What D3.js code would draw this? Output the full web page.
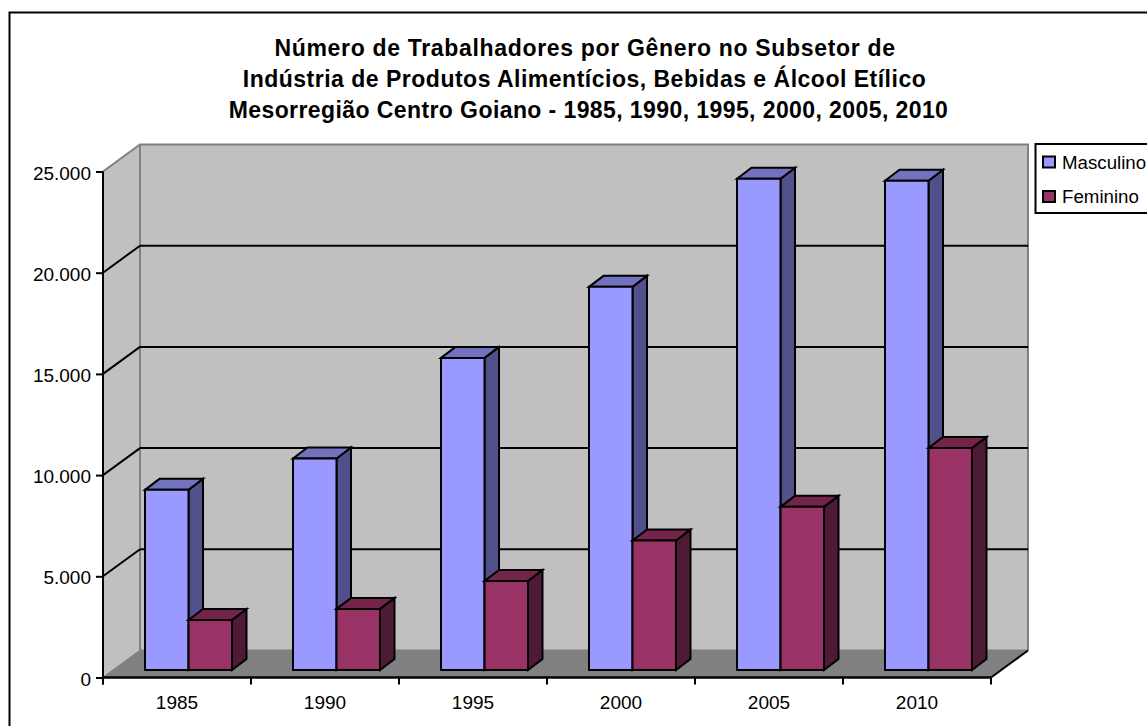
<!DOCTYPE html>
<html><head><meta charset="utf-8">
<style>html,body{margin:0;padding:0;background:#fff}svg{display:block}</style>
<script src="https://cdn.jsdelivr.net/npm/d3@7"></script></head><body>
<svg id="c" width="1147" height="726"></svg>
<script>
const categories = ["1985","1990","1995","2000","2005","2010"];
const masculino = [8900,10450,15420,18930,24270,24170];
const feminino = [2470,3020,4400,6400,8060,10970];
const yTicks = [0,5000,10000,15000,20000,25000];
const yTickLabels = ["0","5.000","10.000","15.000","20.000","25.000"];
const seriesNames = ["Masculino","Feminino"];
const seriesColors = ["#9999ff","#993366"];
const sideColors = ["#50508a","#4f1a36"];
const topColors = ["#7272be","#732549"];
const titleLines = ["Número de Trabalhadores por Gênero no Subsetor de","Indústria de Produtos Alimentícios, Bebidas e Álcool Etílico","Mesorregião Centro Goiano - 1985, 1990, 1995, 2000, 2005, 2010"];

const svg = d3.select("#c");
const font = "'Liberation Sans', Arial, sans-serif";
const L=103,R=991,Y0=677.5,Y1=171.5, DX=37, DY=-27, BDX=14.5, BDY=-11;
const x = d3.scaleBand().domain(categories).range([L,R]);
const y = d3.scaleLinear().domain([0,25000]).range([Y0,Y1]);
const line=(x1,y1,x2,y2,c,w)=>svg.append("line").attr("x1",x1).attr("y1",y1).attr("x2",x2).attr("y2",y2).attr("stroke",c).attr("stroke-width",w);
const poly=(pts,f,s,w)=>svg.append("polygon").attr("points",pts.map(p=>p.join(",")).join(" ")).attr("fill",f).attr("stroke",s||"none").attr("stroke-width",w||0).attr("stroke-linejoin","miter");

svg.append("rect").attr("x",9.5).attr("y",12.5).attr("width",1200).attr("height",800).attr("fill","#fff").attr("stroke","#000").attr("stroke-width",2);

poly([[L+DX,Y1+DY],[R+DX,Y1+DY],[R+DX,Y0+DY],[L+DX,Y0+DY]],"#c0c0c0");
poly([[L,Y1],[L+DX,Y1+DY],[L+DX,Y0+DY],[L,Y0]],"#c0c0c0");
poly([[L,Y0],[R,Y0],[R+DX,Y0+DY],[L+DX,Y0+DY]],"#808080");
svg.append("path").attr("d",`M${L},${Y1}L${L+DX},${Y1+DY}H${R+DX}V${Y0+DY}`).attr("fill","none").attr("stroke","#808080").attr("stroke-width",2);
line(L+DX,Y1+DY,L+DX,Y0+DY,"#808080",2);
line(L+DX,Y0+DY,R+DX,Y0+DY,"#808080",2);
line(L,Y0,L+DX,Y0+DY,"#808080",1.5);
line(R,Y0,R+DX,Y0+DY,"#000",2);
yTicks.slice(1,-1).forEach(t=>{
  line(L,y(t),L+DX,y(t)+DY,"#000",2);
  line(L+DX,y(t)+DY,R+DX,y(t)+DY,"#000",2);
});
const ax=svg.append("g").attr("transform",`translate(${L},0)`).call(d3.axisLeft(y).tickValues(yTicks).tickFormat((d,i)=>yTickLabels[i]).tickSize(7).tickPadding(5));
const bx=svg.append("g").attr("transform",`translate(0,${Y0})`).call(d3.axisBottom(x).tickSize(0).tickPadding(18));
bx.selectAll(".tick line").remove();
[...categories.map(c=>x(c)),R].forEach(px=>line(px,Y0,px,Y0+7,"#000",2));
[ax,bx].forEach(g=>{g.selectAll("text").attr("font-family",font).attr("font-size",19).attr("fill","#000");g.selectAll("path.domain").remove();});
ax.selectAll("text").attr("dy","0.4em");
ax.selectAll("line").attr("stroke","#000").attr("stroke-width",2);
line(L,Y1,L,Y0+7,"#000",2);
line(L,Y0,R,Y0,"#000",2.5);

const barW=43.5, off=42, fy=Y0-7.5, k=(Y0-Y1)/25000;
const drawBar=(x0,v,i)=>{
  const top=fy-v*k, x1=x0+barW;
  poly([[x1,top],[x1+BDX,top+BDY],[x1+BDX,fy+BDY],[x1,fy]],sideColors[i],"#000",2);
  poly([[x0,top],[x0+BDX,top+BDY],[x1+BDX,top+BDY],[x1,top]],topColors[i],"#000",2);
  poly([[x0,top],[x1,top],[x1,fy],[x0,fy]],seriesColors[i],"#000",2);
};
categories.forEach((c,j)=>{
  drawBar(x(c)+off,masculino[j],0);
  drawBar(x(c)+off+barW,feminino[j],1);
});

svg.append("g").selectAll("text").data(titleLines).join("text")
  .attr("text-anchor","middle").attr("x",(d,i)=>[585,584.5,588.5][i])
  .attr("y",(d,i)=>[56,87,118][i]).text(d=>d)
  .attr("font-family",font).attr("font-weight","bold").attr("font-size",23)
  .attr("letter-spacing",(d,i)=>[0.68,0.5,0.41][i]).attr("fill","#000");

svg.append("rect").attr("x",1035.5).attr("y",144).attr("width",130).attr("height",69).attr("fill","#fff").attr("stroke","#000").attr("stroke-width",2);
seriesNames.forEach((n,i)=>{
  const yy=[162,196.5][i];
  svg.append("rect").attr("x",1043).attr("y",yy-5.5).attr("width",12).attr("height",11).attr("fill",seriesColors[i]).attr("stroke","#000").attr("stroke-width",2);
  svg.append("text").attr("x",1062).attr("y",yy+6.5).text(n).attr("font-family",font).attr("font-size",18.7).attr("fill","#000");
});
</script></body></html>
